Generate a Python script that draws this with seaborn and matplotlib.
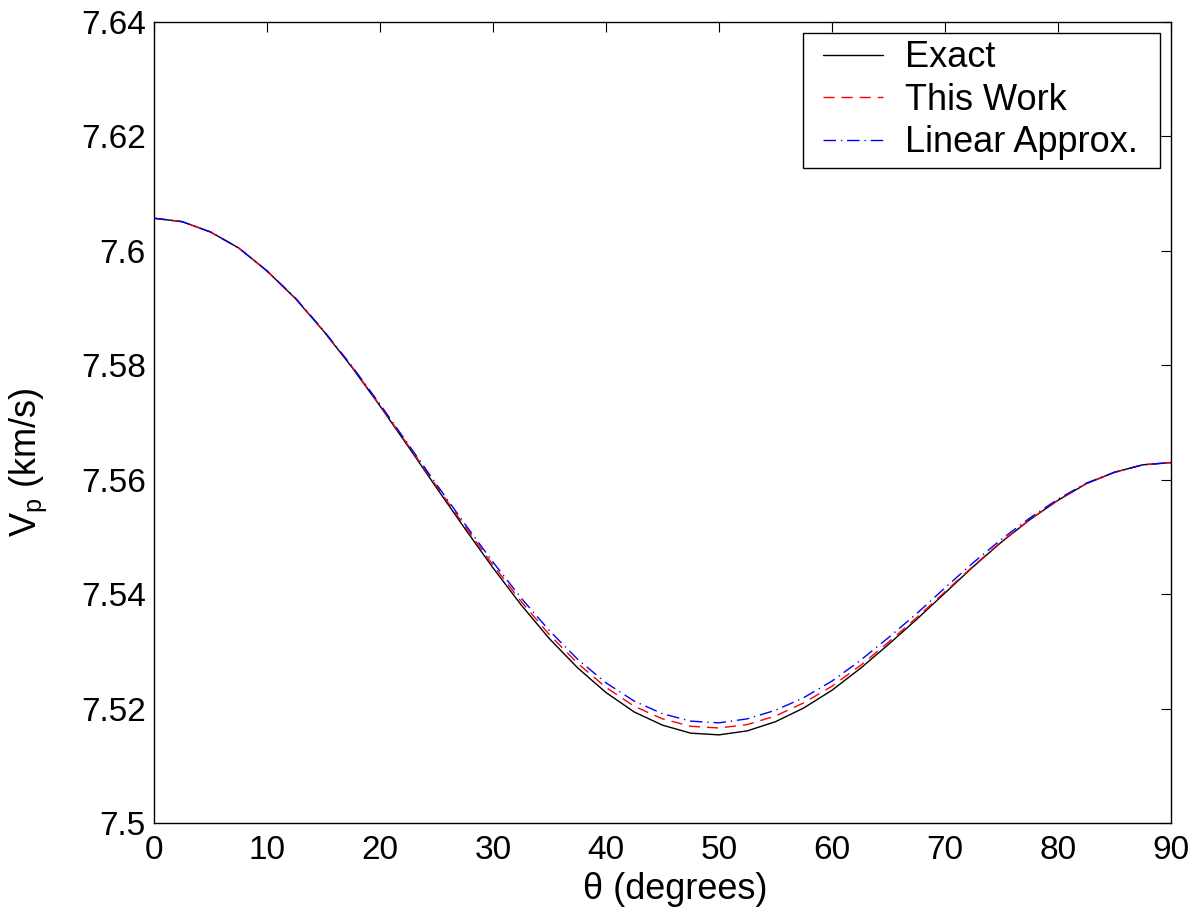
import numpy as np
import pandas as pd
import matplotlib
matplotlib.use("Agg")
import matplotlib.pyplot as plt
from matplotlib.ticker import FormatStrFormatter, MultipleLocator
from matplotlib.legend_handler import HandlerLine2D
import seaborn as sns

# angle (degrees) and P-wave velocity (km/s)
theta = [0, 2.5, 5, 7.5, 10, 12.5, 15, 17.5, 20, 22.5, 25, 27.5, 30, 32.5, 35, 37.5,
         40, 42.5, 45, 47.5, 50, 52.5, 55, 57.5, 60, 62.5, 65, 67.5, 70, 72.5, 75,
         77.5, 80, 82.5, 85, 87.5, 90]

vp_exact = [7.6057, 7.6051, 7.6033, 7.6005, 7.5965, 7.5917, 7.5860, 7.5797, 7.5729,
            7.5658, 7.5586, 7.5515, 7.5446, 7.5381, 7.5322, 7.5271, 7.5228, 7.5194,
            7.5171, 7.5157, 7.5154, 7.5161, 7.5177, 7.5201, 7.5232, 7.5270, 7.5312,
            7.5356, 7.5402, 7.5448, 7.5491, 7.5530, 7.5564, 7.5593, 7.5613, 7.5626,
            7.5630]

vp_this_work = [7.6057, 7.6051, 7.6033, 7.6005, 7.5965, 7.5917, 7.5860, 7.5798, 7.5730,
                7.5660, 7.5589, 7.5519, 7.5451, 7.5387, 7.5329, 7.5279, 7.5237, 7.5204,
                7.5182, 7.5169, 7.5166, 7.5172, 7.5187, 7.5210, 7.5239, 7.5275, 7.5316,
                7.5359, 7.5404, 7.5449, 7.5492, 7.5530, 7.5564, 7.5593, 7.5613, 7.5626,
                7.5630]

vp_linear = [7.6057, 7.6051, 7.6033, 7.6005, 7.5965, 7.5918, 7.5861, 7.5799, 7.5732,
             7.5662, 7.5592, 7.5523, 7.5456, 7.5393, 7.5336, 7.5286, 7.5245, 7.5213,
             7.5191, 7.5178, 7.5175, 7.5182, 7.5197, 7.5219, 7.5248, 7.5284, 7.5324,
             7.5366, 7.5411, 7.5455, 7.5496, 7.5533, 7.5566, 7.5594, 7.5613, 7.5626,
             7.5630]

labels = ["Exact", "This Work", "Linear Approx."]

df = pd.concat([
    pd.DataFrame({"theta": theta, "vp": vp_exact, "method": labels[0]}),
    pd.DataFrame({"theta": theta, "vp": vp_this_work, "method": labels[1]}),
    pd.DataFrame({"theta": theta, "vp": vp_linear, "method": labels[2]}),
])

sns.set_theme(style="white")
plt.rcParams["font.family"] = ["Liberation Sans", "DejaVu Sans"]
plt.rcParams["mathtext.fontset"] = "custom"
plt.rcParams["mathtext.rm"] = "Liberation Sans"
for key in ["text.color", "axes.labelcolor", "xtick.color", "ytick.color"]:
    plt.rcParams[key] = "black"

fig = plt.figure(figsize=(12.01, 9.13), dpi=100)
ax = fig.add_axes([0.1282, 0.0986, 0.8468, 0.8773])

palette = {"Exact": "black", "This Work": "red", "Linear Approx.": "blue"}
dashes = {"Exact": "", "This Work": (8, 5), "Linear Approx.": (9, 3.5, 1, 3.5)}

sns.lineplot(data=df, x="theta", y="vp", hue="method", style="method",
             palette=palette, dashes=dashes, linewidth=1.0, sort=False,
             legend=False, ax=ax)

ax.set_xlim(0, 90)
ax.set_ylim(7.5, 7.64)
ax.xaxis.set_major_locator(MultipleLocator(10))
ax.yaxis.set_major_locator(MultipleLocator(0.02))
ax.yaxis.set_major_formatter(FormatStrFormatter("%g"))
ax.xaxis.set_major_formatter(FormatStrFormatter("%g"))

ax.tick_params(axis="both", which="major", direction="in", length=7, width=0.8,
               top=True, right=True, labelsize=24, color="black")
ax.tick_params(axis="x", pad=9)
ax.tick_params(axis="y", pad=6)
for sp in ax.spines.values():
    sp.set_visible(True)
    sp.set_color("black")
    sp.set_linewidth(1.0)

ax.set_xlabel("\u03b8 (degrees)", fontsize=26)
ax.xaxis.set_label_coords(0.513, -0.061)
ax.set_ylabel(r"V$_\mathregular{p}$ (km/s)", fontsize=26)
ax.yaxis.set_label_coords(-0.103, 0.45)

# legend box spans roughly the same pixels as the MATLAB one
leg = ax.legend(ax.lines[:3], labels, loc="upper left",
                bbox_to_anchor=(0.638, 0.9863, 0.351, 0.0), mode="expand",
                borderaxespad=0, fontsize=26,
                frameon=True, fancybox=False, framealpha=1, edgecolor="black",
                handlelength=2.02, handletextpad=0.6, labelspacing=0.21,
                borderpad=0.2,
                handler_map={ln: HandlerLine2D(xpad=0.36) for ln in ax.lines[:3]})
leg.get_frame().set_linewidth(1.0)

fig.savefig("out.png", dpi=100)
